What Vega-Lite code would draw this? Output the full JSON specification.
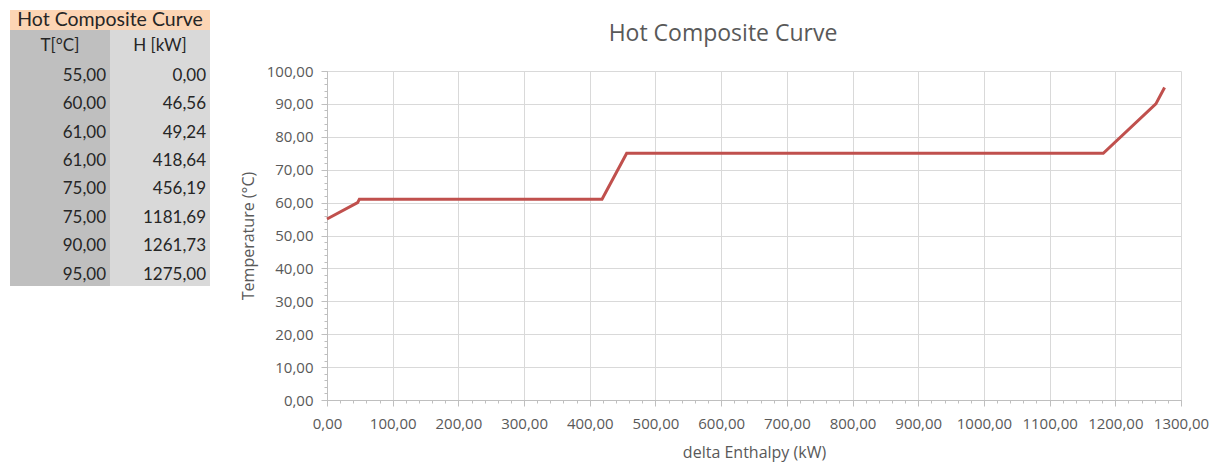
{
  "$schema": "https://vega.github.io/schema/vega-lite/v6.json",
  "padding": {"left": 10, "top": 10, "right": 5, "bottom": 5},
  "background": "white",
  "config": {
    "locale": {"number": {"decimal": ",", "thousands": ".", "grouping": [3], "currency": ["", " €"]}},
    "view": {"stroke": null},
    "font": "Open Sans"
  },
  "datasets": {
    "curve": [
      {"T": 55, "H": 0},
      {"T": 60, "H": 46.56},
      {"T": 61, "H": 49.24},
      {"T": 61, "H": 418.64},
      {"T": 75, "H": 456.19},
      {"T": 75, "H": 1181.69},
      {"T": 90, "H": 1261.73},
      {"T": 95, "H": 1275}
    ],
    "head": [
      {"i": 0, "c": "T", "label": "T[°C]"},
      {"i": 0, "c": "H", "label": "H [kW]"}
    ]
  },
  "spacing": 30,
  "hconcat": [
    {
      "spacing": 0,
      "vconcat": [
        {
          "width": 200,
          "height": 20,
          "data": {"values": [{"label": "Hot Composite Curve"}]},
          "layer": [
            {"mark": {"type": "rect", "color": "#FCD5B4"}, "encoding": {}},
            {
              "mark": {"type": "text", "font": "Lato", "fontSize": 19.5, "color": "#262626"},
              "encoding": {"text": {"field": "label", "type": "nominal"}}
            }
          ]
        },
        {
          "width": 200,
          "height": 256,
          "layer": [
            {
              "data": {"name": "head"},
              "mark": {"type": "rect"},
              "encoding": {
                "x": {"field": "c", "type": "nominal", "axis": null, "scale": {"domain": ["T", "H"], "paddingInner": 0, "paddingOuter": 0}},
                "color": {"field": "c", "type": "nominal", "legend": null, "scale": {"domain": ["T", "H"], "range": ["#BFBFBF", "#D9D9D9"]}}
              }
            },
            {
              "data": {"name": "head"},
              "mark": {"type": "text", "font": "Lato", "fontSize": 17, "color": "#262626", "dy": 2},
              "encoding": {
                "x": {"field": "c", "type": "nominal", "axis": null},
                "y": {"field": "i", "type": "ordinal", "axis": null, "scale": {"domain": [0, 1, 2, 3, 4, 5, 6, 7, 8], "paddingInner": 0, "paddingOuter": 0}},
                "text": {"field": "label", "type": "nominal"}
              }
            },
            {
              "data": {"name": "curve"},
              "transform": [
                {"window": [{"op": "row_number", "as": "i"}]},
                {"fold": ["T", "H"], "as": ["c", "v"]}
              ],
              "mark": {"type": "text", "font": "Lato", "fontSize": 17, "color": "#262626", "align": "right", "dx": -4, "dy": 3},
              "encoding": {
                "x": {"field": "c", "type": "nominal", "axis": null, "bandPosition": 1},
                "y": {"field": "i", "type": "ordinal", "axis": null},
                "text": {"field": "v", "type": "quantitative", "format": ".2f"}
              }
            }
          ]
        }
      ]
    },
    {
      "spacing": 7,
      "vconcat": [
        {
          "width": 854,
          "height": 47,
          "data": {"values": [{"label": "Hot Composite Curve"}]},
          "mark": {"type": "text", "fontSize": 23, "color": "#595959", "dx": -31},
          "encoding": {"text": {"field": "label", "type": "nominal"}}
        },
        {
          "width": 854,
          "height": 329,
          "data": {"name": "curve"},
          "layer": [
            {
              "mark": {"type": "line", "color": "#C0504D", "strokeWidth": 3},
              "encoding": {
                "x": {
                  "field": "H", "type": "quantitative",
                  "scale": {"domain": [0, 1300], "nice": false, "zero": false},
                  "axis": {
                    "orient": "bottom",
                    "values": [0, 100, 200, 300, 400, 500, 600, 700, 800, 900, 1000, 1100, 1200, 1300],
                    "format": ".2f",
                    "title": "delta Enthalpy (kW)",
                    "titleFontSize": 16,
                    "titleFontWeight": "normal",
                    "titleColor": "#595959",
                    "titlePadding": 13,
                    "labelFontSize": 15,
                    "labelColor": "#595959",
                    "labelPadding": 10,
                    "labelFlush": false,
                    "labelOverlap": false,
                    "tickSize": 6,
                    "tickColor": "#BFBFBF",
                    "domainColor": "#BFBFBF",
                    "gridColor": "#D9D9D9",
                    "grid": true
                  }
                },
                "y": {
                  "field": "T", "type": "quantitative",
                  "scale": {"domain": [0, 100], "nice": false, "zero": false},
                  "axis": {
                    "orient": "left",
                    "values": [0, 10, 20, 30, 40, 50, 60, 70, 80, 90, 100],
                    "format": ".2f",
                    "title": "Temperature (°C)",
                    "titleFontSize": 16,
                    "titleFontWeight": "normal",
                    "titleColor": "#595959",
                    "titlePadding": 10,
                    "labelFontSize": 15,
                    "labelColor": "#595959",
                    "labelPadding": 8,
                    "labelFlush": false,
                    "labelOverlap": false,
                    "tickSize": 6,
                    "tickColor": "#BFBFBF",
                    "domainColor": "#BFBFBF",
                    "gridColor": "#D9D9D9",
                    "grid": true
                  }
                }
              }
            },
            {
              "mark": {"type": "point", "opacity": 0},
              "encoding": {
                "x": {
                  "field": "H", "type": "quantitative",
                  "axis": {
                    "orient": "bottom",
                    "values": [0, 20, 40, 60, 80, 100, 120, 140, 160, 180, 200, 220, 240, 260, 280, 300, 320, 340, 360, 380, 400, 420, 440, 460, 480, 500, 520, 540, 560, 580, 600, 620, 640, 660, 680, 700, 720, 740, 760, 780, 800, 820, 840, 860, 880, 900, 920, 940, 960, 980, 1000, 1020, 1040, 1060, 1080, 1100, 1120, 1140, 1160, 1180, 1200, 1220, 1240, 1260, 1280, 1300],
                    "labels": false,
                    "grid": false,
                    "domain": false,
                    "title": null,
                    "tickSize": 3,
                    "tickColor": "#BFBFBF"
                  }
                },
                "y": {
                  "field": "T", "type": "quantitative",
                  "axis": {
                    "orient": "left",
                    "values": [0, 2, 4, 6, 8, 10, 12, 14, 16, 18, 20, 22, 24, 26, 28, 30, 32, 34, 36, 38, 40, 42, 44, 46, 48, 50, 52, 54, 56, 58, 60, 62, 64, 66, 68, 70, 72, 74, 76, 78, 80, 82, 84, 86, 88, 90, 92, 94, 96, 98, 100],
                    "labels": false,
                    "grid": false,
                    "domain": false,
                    "title": null,
                    "tickSize": 3,
                    "tickColor": "#BFBFBF"
                  }
                }
              }
            }
          ],
          "resolve": {"axis": {"x": "independent", "y": "independent"}}
        }
      ]
    }
  ]
}
